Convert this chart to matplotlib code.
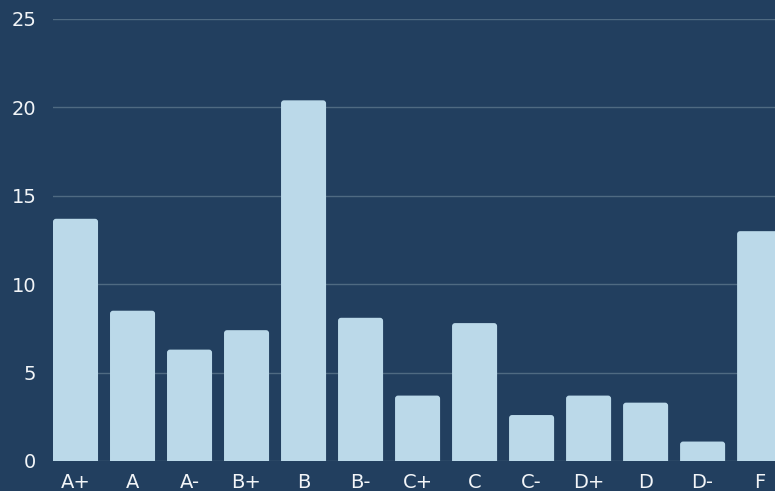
import matplotlib
matplotlib.use("Agg")
import matplotlib.pyplot as plt
from matplotlib.patches import FancyBboxPatch

grades = ["A+", "A", "A-", "B+", "B", "B-", "C+", "C", "C-", "D+", "D", "D-", "F"]
percent = [13.7, 8.5, 6.3, 7.4, 20.4, 8.1, 3.7, 7.8, 2.6, 3.7, 3.3, 1.1, 13.0]
yticks = [0, 5, 10, 15, 20, 25]

BG = "#223f5f"
BAR = "#bbd9e9"
GRID = "#4f6a82"
TXT = "#f2f5f8"

W, H = 775, 491
fig = plt.figure(figsize=(W / 100, H / 100), dpi=100, facecolor=BG)
ax = fig.add_axes([53 / W, (H - 461) / H, 1 - 53 / W, (461 - 19) / H])
ax.set_facecolor(BG)

width = 0.79
x = list(range(len(grades)))
bars = ax.bar(x, percent, width=width, color=BAR, zorder=2)
ax.set_xlim(-width / 2, 12.27)
ax.set_ylim(0, 25)

# replace with rounded-top bars
px_x = 57.0
px_y = 17.68
r = 3.0
for b in bars:
    bx, by = b.get_x(), b.get_y()
    bw, bh = b.get_width(), b.get_height()
    b.set_visible(False)
    p = FancyBboxPatch((bx, -1), bw, bh + 1,
                       boxstyle=f"round,pad=0,rounding_size={r / px_x}",
                       mutation_aspect=px_x / px_y,
                       facecolor=BAR, edgecolor="none", zorder=2)
    ax.add_patch(p)

ax.set_yticks(yticks)
ax.set_xticks(x)
ax.set_xticklabels(grades)
ax.grid(axis="y", color=GRID, linewidth=1.0, zorder=1)
ax.set_axisbelow(True)
for s in ax.spines.values():
    s.set_visible(False)
ax.tick_params(axis="both", length=0, colors=TXT, labelsize=14)
ax.tick_params(axis="y", pad=12)
ax.tick_params(axis="x", pad=9)
for lab in ax.get_xticklabels() + ax.get_yticklabels():
    lab.set_fontfamily("DejaVu Sans")
    lab.set_color(TXT)

fig.savefig("out.png", dpi=100, facecolor=BG)
